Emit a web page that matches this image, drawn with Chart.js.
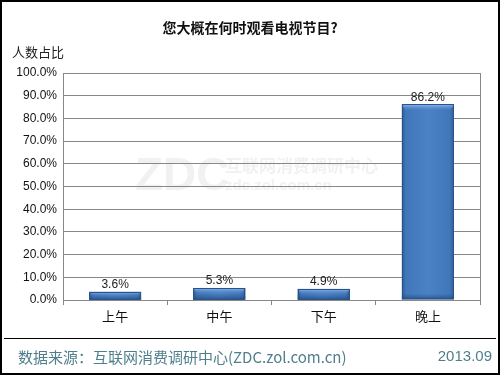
<!DOCTYPE html>
<html><head><meta charset="utf-8">
<script src="https://cdn.jsdelivr.net/npm/chart.js@4/dist/chart.umd.min.js"></script>
<style>html,body{margin:0;padding:0;background:#fff}#w{width:500px;height:375px;position:relative}</style>
</head><body><div id="w"><canvas id="c" width="500" height="375"></canvas></div>
<script>
const categories = ['上午','中午','下午','晚上'];
const values = [3.6, 5.3, 4.9, 86.2];
const yTicks = [0,10,20,30,40,50,60,70,80,90,100];
const titleText = '您大概在何时观看电视节目?';
const yTitle = '人数占比';
const sourceText = '数据来源：互联网消费调研中心(ZDC.zol.com.cn)';
const dateText = '2013.09';

const FONT = '"Liberation Sans","DejaVu Sans",sans-serif';
const CJK = '"Noto Sans CJK SC","Liberation Sans",sans-serif';

const deco = {
  id:'deco',
  beforeDraw(chart){
    const ctx=chart.ctx;
    ctx.save();
    ctx.fillStyle='#fff';ctx.fillRect(0,0,500,375);
    ctx.fillStyle='rgba(205,205,205,0.28)';
    ctx.font='bold 46px '+FONT;ctx.textBaseline='alphabetic';ctx.textAlign='left';
    ctx.fillText('ZDC',135,190);
    ctx.font='bold 17px '+CJK;ctx.fillText('互联网消费调研中心',225,172);
    ctx.font='bold 15px '+FONT;ctx.fillText('zdc.zol.com.cn',225,190);
    ctx.restore();
  },
  afterDraw(chart){
    const ctx=chart.ctx, a=chart.chartArea;
    ctx.save();
    ctx.strokeStyle='#000';ctx.lineWidth=2;
    ctx.strokeRect(1,1,498,373);
    ctx.strokeStyle='#888';ctx.lineWidth=1;
    ctx.beginPath();ctx.moveTo(Math.round(a.right)+0.5,a.top);ctx.lineTo(Math.round(a.right)+0.5,a.bottom);ctx.stroke();
    ctx.fillStyle='#111';ctx.textAlign='center';ctx.textBaseline='middle';
    ctx.font='bold 14px '+CJK;ctx.fillText(titleText,250,28);
    ctx.font='13px '+CJK;ctx.textAlign='left';ctx.fillStyle='#222';
    ctx.fillText(yTitle,12,52);
    ctx.strokeStyle='#000';ctx.lineWidth=1;
    ctx.beginPath();ctx.moveTo(4,338.5);ctx.lineTo(496,338.5);ctx.stroke();
    ctx.fillStyle='#4f7f8c';ctx.font='15px '+CJK;ctx.textAlign='left';
    ctx.fillText(sourceText,18,357);
    ctx.textAlign='right';ctx.font='15px '+FONT;
    ctx.fillText(dateText,492,357);
    ctx.restore();
  },
  afterDatasetsDraw(chart){
    const ctx=chart.ctx;
    const meta=chart.getDatasetMeta(0);
    ctx.save();
    meta.data.forEach((bar,i)=>{
      const p=bar.getProps(['x','y','base','width'],true);
      const l=p.x-p.width/2, r=p.x+p.width/2, t=p.y, b=p.base;
      const g=ctx.createLinearGradient(l,0,r,0);
      g.addColorStop(0,'#2e5c96');g.addColorStop(0.08,'#4177ba');
      g.addColorStop(0.5,'#4a82c6');g.addColorStop(0.92,'#4177ba');g.addColorStop(1,'#2e5c96');
      ctx.fillStyle=g;ctx.fillRect(l,t,r-l,b-t);
      const bh=Math.min(6,(b-t)/2);
      const g2=ctx.createLinearGradient(0,t,0,t+bh);
      g2.addColorStop(0,'rgba(150,190,240,0.9)');g2.addColorStop(1,'rgba(100,150,215,0)');
      ctx.fillStyle=g2;
      ctx.beginPath();ctx.moveTo(l,t);ctx.lineTo(r,t);ctx.lineTo(r-3,t+bh);ctx.lineTo(l+3,t+bh);ctx.closePath();ctx.fill();
      const g3=ctx.createLinearGradient(0,b-bh,0,b);
      g3.addColorStop(0,'rgba(30,60,110,0)');g3.addColorStop(1,'rgba(30,60,110,0.6)');
      ctx.fillStyle=g3;ctx.fillRect(l,b-bh,r-l,bh);
      ctx.strokeStyle='#2a5488';ctx.lineWidth=1;
      ctx.strokeRect(Math.round(l)+0.5,Math.round(t)+0.5,Math.round(r-l)-1,Math.round(b-t)-1);
      ctx.fillStyle='#222';ctx.font='12px '+FONT;ctx.textAlign='center';ctx.textBaseline='bottom';
      ctx.fillText(values[i].toFixed(1)+'%',p.x,t-1);
    });
    ctx.restore();
  }
};

new Chart(document.getElementById('c'),{
  type:'bar',
  data:{labels:categories,datasets:[{data:values,backgroundColor:'rgba(0,0,0,0)',borderWidth:0,categoryPercentage:1,barPercentage:0.5}]},
  options:{
    responsive:false,animation:false,
    layout:{padding:{left:0,top:73,right:20,bottom:37}},
    plugins:{legend:{display:false},tooltip:{enabled:false}},
    scales:{
      x:{
        afterFit(s){s.height=38;},
        grid:{offset:true,drawOnChartArea:false,color:'#888',tickLength:5},
        border:{color:'#888'},
        ticks:{color:'#111',font:{family:CJK,size:13},padding:3}
      },
      y:{
        min:0,max:100,
        afterFit(s){s.width=63;},
        afterBuildTicks(s){s.ticks=yTicks.map(v=>({value:v}));},
        grid:{color:'#888',drawTicks:false},
        border:{color:'#888'},
        ticks:{color:'#111',font:{family:FONT,size:12},padding:6,callback:v=>v.toFixed(1)+'%'}
      }
    }
  },
  plugins:[deco]
});
</script></body></html>
